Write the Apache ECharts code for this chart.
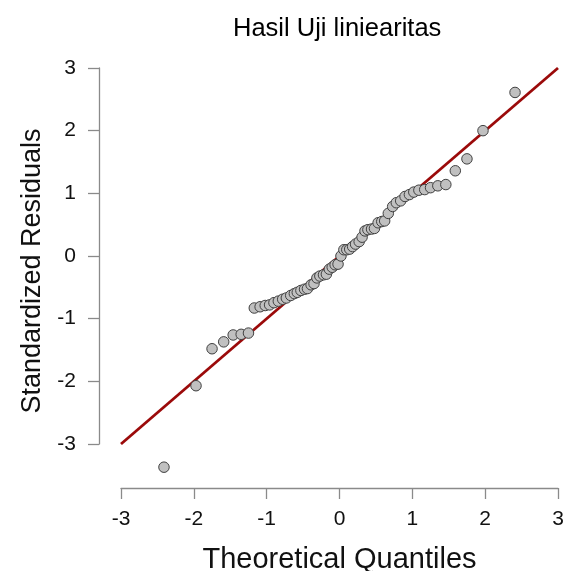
<!DOCTYPE html>
<html>
<head>
<meta charset="utf-8">
<script src="https://cdn.jsdelivr.net/npm/echarts@6/dist/echarts.min.js"></script>
<style>
html,body{margin:0;padding:0;background:#fff;}
#chart{width:565px;height:571px;}
</style>
</head>
<body>
<div id="chart"></div>
<script>
// Theoretical quantiles (x)
var theoretical = [
  -2.41, -1.97, -1.75, -1.59, -1.46, -1.35, -1.25, -1.17, -1.09, -1.02,
  -0.96, -0.90, -0.84, -0.78, -0.73, -0.67, -0.62, -0.58, -0.53, -0.48,
  -0.44, -0.39, -0.35, -0.31, -0.27, -0.22, -0.18, -0.14, -0.10, -0.06,
  -0.02, 0.02, 0.06, 0.10, 0.14, 0.18, 0.22, 0.27, 0.31, 0.35,
  0.39, 0.44, 0.48, 0.53, 0.58, 0.62, 0.67, 0.73, 0.78, 0.84,
  0.90, 0.96, 1.02, 1.09, 1.17, 1.25, 1.35, 1.46, 1.59, 1.75,
  1.97, 2.41
];
// Standardized residuals (y)
var residuals = [
  -3.37, -2.07, -1.48, -1.37, -1.26, -1.25, -1.23, -0.83, -0.81, -0.79,
  -0.78, -0.745, -0.72, -0.69, -0.67, -0.63, -0.60, -0.58, -0.55, -0.53,
  -0.52, -0.46, -0.44, -0.35, -0.32, -0.30, -0.29, -0.21, -0.18, -0.14,
  -0.13, 0.00, 0.10, 0.10, 0.11, 0.15, 0.19, 0.23, 0.30, 0.40,
  0.42, 0.43, 0.44, 0.53, 0.55, 0.56, 0.68, 0.79, 0.85, 0.88,
  0.95, 0.98, 1.02, 1.05, 1.06, 1.09, 1.12, 1.14, 1.36, 1.55,
  2.00, 2.61
];
// Reference line y = x end points
var refLineX = [-3, 3];
var refLineY = [-3, 3];
var xTicks = [-3, -2, -1, 0, 1, 2, 3];
var yTicks = [-3, -2, -1, 0, 1, 2, 3];

var pts = [];
for (var i = 0; i < theoretical.length; i++) pts.push([theoretical[i], residuals[i]]);
var linePts = [];
for (var j = 0; j < refLineX.length; j++) linePts.push([refLineX[j], refLineY[j]]);

var FONT = 'Liberation Sans, Arial, sans-serif';
var chart = echarts.init(document.getElementById('chart'), null, {renderer: 'canvas'});
chart.setOption({
  animation: false,
  backgroundColor: '#ffffff',
  title: {
    text: 'Hasil Uji liniearitas',
    left: 228, top: 11,
    textStyle: {fontFamily: FONT, fontSize: 25.5, fontWeight: 'normal', color: '#000'}
  },
  grid: {left: 121, right: 7, top: 68, bottom: 127, containLabel: false, outerBoundsMode: 'none'},
  xAxis: {
    type: 'value', min: xTicks[0], max: xTicks[xTicks.length - 1], interval: 1,
    offset: 44,
    name: 'Theoretical Quantiles', nameLocation: 'middle', nameGap: 57,
    nameTextStyle: {fontFamily: FONT, fontSize: 29, color: '#111'},
    axisLine: {show: true, onZero: false, lineStyle: {color: '#8a8a8a', width: 1.3}},
    axisTick: {show: true, inside: false, length: 11, lineStyle: {color: '#8a8a8a', width: 1.3}},
    axisLabel: {fontFamily: FONT, fontSize: 21, color: '#111', margin: 21},
    splitLine: {show: false}
  },
  yAxis: {
    type: 'value', min: yTicks[0], max: yTicks[yTicks.length - 1], interval: 1,
    offset: 22,
    name: 'Standardized Residuals', nameLocation: 'middle', nameGap: 51,
    nameTextStyle: {fontFamily: FONT, fontSize: 27, color: '#111', padding: [0, 30, 0, 0]},
    axisLine: {show: true, onZero: false, lineStyle: {color: '#8a8a8a', width: 1.3}},
    axisTick: {show: true, inside: false, length: 11, lineStyle: {color: '#8a8a8a', width: 1.3}},
    axisLabel: {fontFamily: FONT, fontSize: 21, color: '#111', margin: 23},
    splitLine: {show: false}
  },
  series: [
    {
      type: 'line', data: linePts, symbol: 'none', silent: true,
      lineStyle: {color: '#9b0a0a', width: 2.8}, z: 1
    },
    {
      type: 'scatter', data: pts, symbol: 'circle', symbolSize: 10.5, clip: false,
      itemStyle: {color: '#c0c0c0', borderColor: '#404040', borderWidth: 1, opacity: 1}, z: 2
    }
  ]
});
</script>
</body>
</html>
